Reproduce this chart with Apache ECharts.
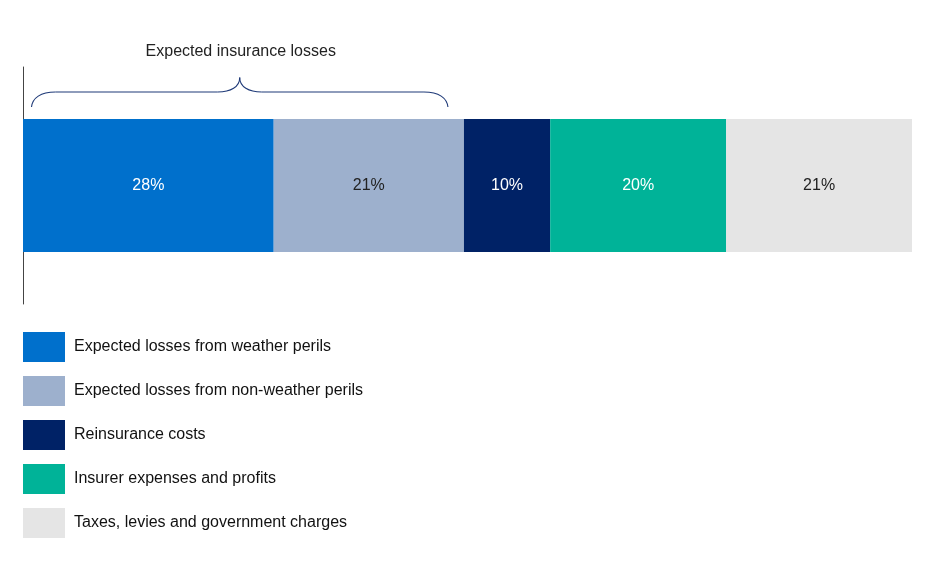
<!DOCTYPE html>
<html>
<head>
<meta charset="utf-8">
<script src="https://cdn.jsdelivr.net/npm/echarts@6/dist/echarts.min.js"></script>
<style>html,body{margin:0;padding:0;background:#fff;}#chart{width:952px;height:579px;}</style>
</head>
<body>
<div id="chart"></div>
<script>
var categories = ['Premium'];
var seriesNames = [
  'Expected losses from weather perils',
  'Expected losses from non-weather perils',
  'Reinsurance costs',
  'Insurer expenses and profits',
  'Taxes, levies and government charges'
];
var seriesValues = [28.2, 21.4, 9.7, 19.8, 20.9];
var seriesColors = ['#0070CC', '#9DB0CD', '#002266', '#00B398', '#E5E5E5'];
var labelColors = ['#ffffff', '#222222', '#ffffff', '#ffffff', '#222222'];
var braceTitle = 'Expected insurance losses';
var braceSpan = [0, 2]; // first two series

var FONT = '"Liberation Sans", Arial, sans-serif';
var total = seriesValues.reduce(function (a, b) { return a + b; }, 0);

var chart = echarts.init(document.getElementById('chart'));
var series = seriesNames.map(function (name, i) {
  return {
    name: name,
    type: 'bar',
    stack: 'total',
    barWidth: 133,
    data: [seriesValues[i]],
    itemStyle: { color: seriesColors[i] },
    label: {
      show: true,
      position: 'inside',
      formatter: function (p) { return Math.round(p.value) + '%'; },
      color: labelColors[i],
      fontFamily: FONT,
      fontSize: 16,
      padding: [2, 0, 0, 0]
    },
    emphasis: { disabled: true },
    silent: true
  };
});

chart.setOption({
  animation: false,
  backgroundColor: '#ffffff',
  grid: { left: 23, right: 40, top: 67, height: 237 },
  xAxis: {
    type: 'value', min: 0, max: total,
    show: false, splitLine: { show: false }
  },
  yAxis: {
    type: 'category', data: categories,
    axisLine: { show: true, lineStyle: { color: '#444444', width: 1 } },
    axisTick: { show: false }, axisLabel: { show: false }
  },
  legend: {
    orient: 'vertical', left: 23, top: 332, padding: 0,
    itemWidth: 42, itemHeight: 30, itemGap: 14,
    icon: 'rect',
    data: seriesNames,
    selectedMode: false,
    textStyle: { fontFamily: FONT, fontSize: 16, color: '#111111', padding: [3, 0, 0, 4] }
  },
  series: series
});

// brace annotation positioned through the value scale
var startVal = 0;
for (var i = 0; i < braceSpan[0]; i++) startVal += seriesValues[i];
var endVal = startVal;
for (var j = braceSpan[0]; j < braceSpan[1]; j++) endVal += seriesValues[j];
var xL = chart.convertToPixel({ xAxisIndex: 0 }, startVal) + 8.5;
var xR = chart.convertToPixel({ xAxisIndex: 0 }, endVal) - 16;
var mid = (xL + xR) / 2;
var yb = 107, yh = 92, yt = 77.5;
var braceStyle = { fill: null, stroke: '#1F3A78', lineWidth: 1.1 };
function bz(x1, y1, cx1, cy1, cx2, cy2, x2, y2) {
  return { type: 'bezierCurve', silent: true, style: braceStyle,
    shape: { x1: x1, y1: y1, cpx1: cx1, cpy1: cy1, cpx2: cx2, cpy2: cy2, x2: x2, y2: y2 } };
}
function ln(x1, y1, x2, y2) {
  return { type: 'line', silent: true, style: braceStyle,
    shape: { x1: x1, y1: y1, x2: x2, y2: y2 } };
}

chart.setOption({
  graphic: [
    bz(xL, yb, xL + 1, yh + 6, xL + 9, yh, xL + 24, yh),
    ln(xL + 24, yh, mid - 22, yh),
    bz(mid - 22, yh, mid - 9, yh, mid, yh - 5, mid, yt),
    bz(mid, yt, mid, yh - 5, mid + 9, yh, mid + 22, yh),
    ln(mid + 22, yh, xR - 24, yh),
    bz(xR - 24, yh, xR - 9, yh, xR - 1, yh + 6, xR, yb),
    {
      type: 'text',
      x: mid + 1, y: 52,
      style: {
        text: braceTitle, fill: '#222222', font: '16px ' + FONT,
        textAlign: 'center', textVerticalAlign: 'middle'
      },
      silent: true
    }
  ]
});
</script>
</body>
</html>
